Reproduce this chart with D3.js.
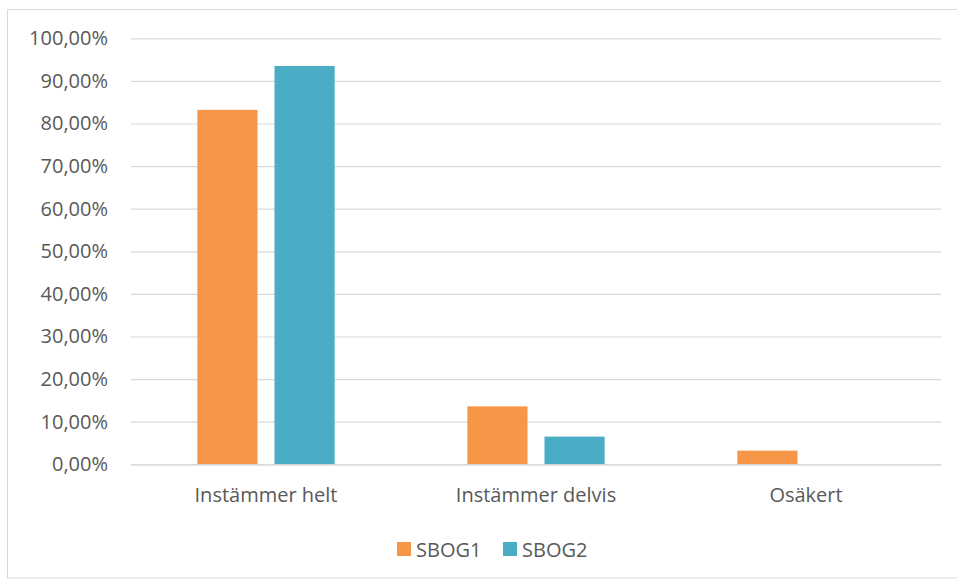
<!DOCTYPE html>
<html><head><meta charset="utf-8">
<script src="https://cdn.jsdelivr.net/npm/d3@7"></script>
<style>body{margin:0;background:#fff}svg{display:block}text{font-family:"Open Sans",sans-serif;fill:#595959}</style>
</head><body><svg id="c" width="957" height="581"></svg>
<script>
const categories = ["Instämmer helt", "Instämmer delvis", "Osäkert"];
const seriesNames = ["SBOG1", "SBOG2"];
const sbog1 = [83.2, 13.6, 3.2];
const sbog2 = [93.5, 6.5, 0];
const yTicks = [0,10,20,30,40,50,60,70,80,90,100];
const colors = ["#F79646", "#4BACC6"];

const svg = d3.select("#c");
svg.append("rect").attr("x",7.5).attr("y",9.5).attr("width",960).attr("height",568.5)
  .attr("fill","#fff").attr("stroke","#d9d9d9");

const L=131, R=941, T=38.3, B=464.3;
const x = d3.scaleBand().domain(categories).range([L,R]).paddingInner(0).paddingOuter(0);
const xs = d3.scaleBand().domain(seriesNames).range([0,x.bandwidth()]).paddingInner(0.22).paddingOuter(0.86);
const y = d3.scaleLinear().domain([0,100]).range([B,T]);

const fmt = v => v.toFixed(2).replace(".",",") + "%";
const yAxis = d3.axisLeft(y).tickValues(yTicks).tickSize(-(R-L)).tickFormat(fmt).tickPadding(23);
const ga = svg.append("g").attr("transform",`translate(${L},0)`).call(yAxis);
ga.select(".domain").remove();
ga.selectAll(".tick line").attr("stroke","#d9d9d9").attr("stroke-width",1.2);
ga.selectAll(".tick text").attr("font-size",20).style("fill","#595959").attr("font-family","Open Sans");

const data = [sbog1, sbog2];
seriesNames.forEach((s,si)=>{
  svg.append("g").selectAll("rect").data(categories).join("rect")
    .attr("x", c => x(c) + xs(s))
    .attr("width", xs.bandwidth())
    .attr("y", (c,i) => y(data[si][i]))
    .attr("height", (c,i) => B - y(data[si][i]))
    .attr("fill", colors[si]);
});

const xAxis = d3.axisBottom(x).tickSize(0).tickPadding(24);
const gx = svg.append("g").attr("transform",`translate(0,${B})`).call(xAxis);
gx.select(".domain").attr("stroke","#d9d9d9").attr("stroke-width",1.2);
gx.selectAll(".tick text").attr("font-size",20).style("fill","#595959").attr("font-family","Open Sans");

const lg = svg.append("g");
const lx = [397, 503];
seriesNames.forEach((s,i)=>{
  lg.append("rect").attr("x",lx[i]).attr("y",542).attr("width",14).attr("height",14).attr("fill",colors[i]);
  lg.append("text").attr("x",lx[i]+19).attr("y",556.5).attr("font-size",20).text(s);
});
</script></body></html>
